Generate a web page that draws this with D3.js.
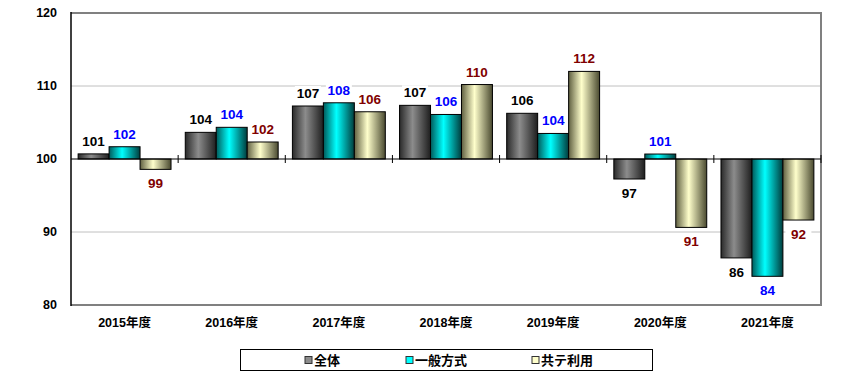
<!DOCTYPE html>
<html>
<head>
<meta charset="utf-8">
<script src="https://cdn.jsdelivr.net/npm/d3@7"></script>
<style>
body { margin: 0; background: white; }
text { font-family: "Liberation Sans", Arial, "Noto Sans CJK JP", sans-serif; font-weight: bold; }
</style>
</head>
<body>
<div id="chart"></div>
<script>
// data
const years = ["2015年度", "2016年度", "2017年度", "2018年度", "2019年度", "2020年度", "2021年度"];
const seriesNames = ["全体", "一般方式", "共テ利用"];
const zentai = [100.7, 103.65, 107.26, 107.35, 106.26, 97.26, 86.45];
const ippan = [101.68, 104.34, 107.7, 106.1, 103.5, 100.68, 83.93];
const kyote = [98.58, 102.33, 106.47, 110.2, 112.0, 90.63, 91.64];
const yTicks = [80, 90, 100, 110, 120];

const allSeries = [zentai, ippan, kyote];
const labelColors = ["#000000", "#0000ff", "#800000"];
const grads = [
    ["#2a2a2a", "#8c8c8c", "#1e1e1e"],
    ["#005a5a", "#00ffff", "#003c3c"],
    ["#5f5f40", "#ffffcc", "#4a4a30"]
];

let dim = { width: 841, height: 377 };
let plot = { left: 71, right: 821, top: 13, bottom: 305 };

let svg = d3.select('#chart').append('svg')
    .attr('width', dim.width)
    .attr('height', dim.height)
    .style('background', 'white');

let defs = svg.append('defs');
grads.forEach((g, i) => {
    let lg = defs.append('linearGradient')
        .attr('id', 'grad' + i)
        .attr('x1', 0).attr('x2', 1).attr('y1', 0).attr('y2', 0);
    lg.append('stop').attr('offset', '0%').attr('stop-color', g[0]);
    lg.append('stop').attr('offset', '42%').attr('stop-color', g[1]);
    lg.append('stop').attr('offset', '100%').attr('stop-color', g[2]);
});

let y = d3.scaleLinear().domain([80, 120]).range([plot.bottom, plot.top]);
let x0 = d3.scaleBand().domain(years).range([plot.left, plot.right]).paddingInner(0).paddingOuter(0);
let x1 = d3.scaleBand().domain([0, 1, 2]).range([0, x0.bandwidth()]).paddingInner(0).paddingOuter(0.23);

// gridlines
svg.append('g').selectAll('line')
    .data([90, 110])
    .join('line')
    .attr('x1', plot.left).attr('x2', plot.right)
    .attr('y1', d => y(d)).attr('y2', d => y(d))
    .attr('stroke', '#c0c0c0').attr('stroke-width', 1);

// plot border (top, right, bottom grey)
svg.append('path')
    .attr('d', `M${plot.left},${y(120)}H${plot.right}V${y(80)}H${plot.left}`)
    .attr('fill', 'none').attr('stroke', '#808080').attr('stroke-width', 2);

// bars
let groups = svg.append('g').selectAll('g')
    .data(years)
    .join('g')
    .attr('transform', d => `translate(${x0(d)},0)`);

groups.selectAll('rect')
    .data((d, i) => allSeries.map((s, k) => ({ k: k, v: s[i] })))
    .join('rect')
    .attr('x', d => x1(d.k))
    .attr('width', x1.bandwidth())
    .attr('y', d => y(Math.max(d.v, 100)))
    .attr('height', d => Math.abs(y(d.v) - y(100)))
    .attr('fill', d => 'url(#grad' + d.k + ')')
    .attr('stroke', 'black').attr('stroke-width', 1);

// left axis
svg.append('line')
    .attr('x1', plot.left).attr('x2', plot.left)
    .attr('y1', plot.top - 1).attr('y2', plot.bottom + 1)
    .attr('stroke', 'black').attr('stroke-width', 1.5);

// category axis at 100
svg.append('line')
    .attr('x1', plot.left).attr('x2', plot.right)
    .attr('y1', y(100)).attr('y2', y(100))
    .attr('stroke', 'black').attr('stroke-width', 1.2);
svg.append('g').selectAll('line')
    .data(years.slice(1).concat(['end']))
    .join('line')
    .attr('x1', d => d === 'end' ? plot.right : x0(d))
    .attr('x2', d => d === 'end' ? plot.right : x0(d))
    .attr('y1', y(100) - 4).attr('y2', y(100) + 4)
    .attr('stroke', 'black').attr('stroke-width', 1);

// y tick labels
svg.append('g').selectAll('text')
    .data(yTicks)
    .join('text')
    .attr('x', 57)
    .attr('y', d => y(d) + 4)
    .attr('text-anchor', 'end')
    .attr('font-size', 12.5)
    .text(d => d);

// x labels
svg.append('g').selectAll('text')
    .data(years)
    .join('text')
    .attr('x', d => x0(d) + x0.bandwidth() / 2)
    .attr('y', 327)
    .attr('text-anchor', 'middle')
    .attr('font-size', 12.5)
    .text(d => d);

// data labels
let lab = groups.selectAll('g.lab')
    .data((d, i) => allSeries.map((s, k) => ({ k: k, v: s[i] })))
    .join('g')
    .attr('class', 'lab')
    .attr('transform', d => {
        let cx = x1(d.k) + x1.bandwidth() / 2;
        let cy = d.v >= 100 ? y(d.v) - 13 : y(d.v) + 14;
        return `translate(${cx},${cy})`;
    });
lab.append('rect')
    .attr('x', -13).attr('y', -7).attr('width', 26).attr('height', 14)
    .attr('fill', 'white');
lab.append('text')
    .attr('text-anchor', 'middle')
    .attr('y', 5)
    .attr('font-size', 13.5)
    .attr('fill', d => labelColors[d.k])
    .text(d => Math.round(d.v));

// legend
let legend = svg.append('g');
legend.append('rect')
    .attr('x', 240.5).attr('y', 349.5).attr('width', 412).attr('height', 21)
    .attr('fill', 'white').attr('stroke', 'black').attr('stroke-width', 1);
let legendX = [305, 406, 532];
let items = legend.selectAll('g')
    .data(seriesNames)
    .join('g')
    .attr('transform', (d, i) => `translate(${legendX[i]},360)`);
items.append('rect')
    .attr('x', 0).attr('y', -3.5).attr('width', 7).attr('height', 7)
    .attr('fill', (d, i) => grads[i][1])
    .attr('stroke', '#333').attr('stroke-width', 1);
items.append('text')
    .attr('x', 9).attr('y', 5)
    .attr('font-size', 13)
    .text(d => d);
</script>
</body>
</html>
